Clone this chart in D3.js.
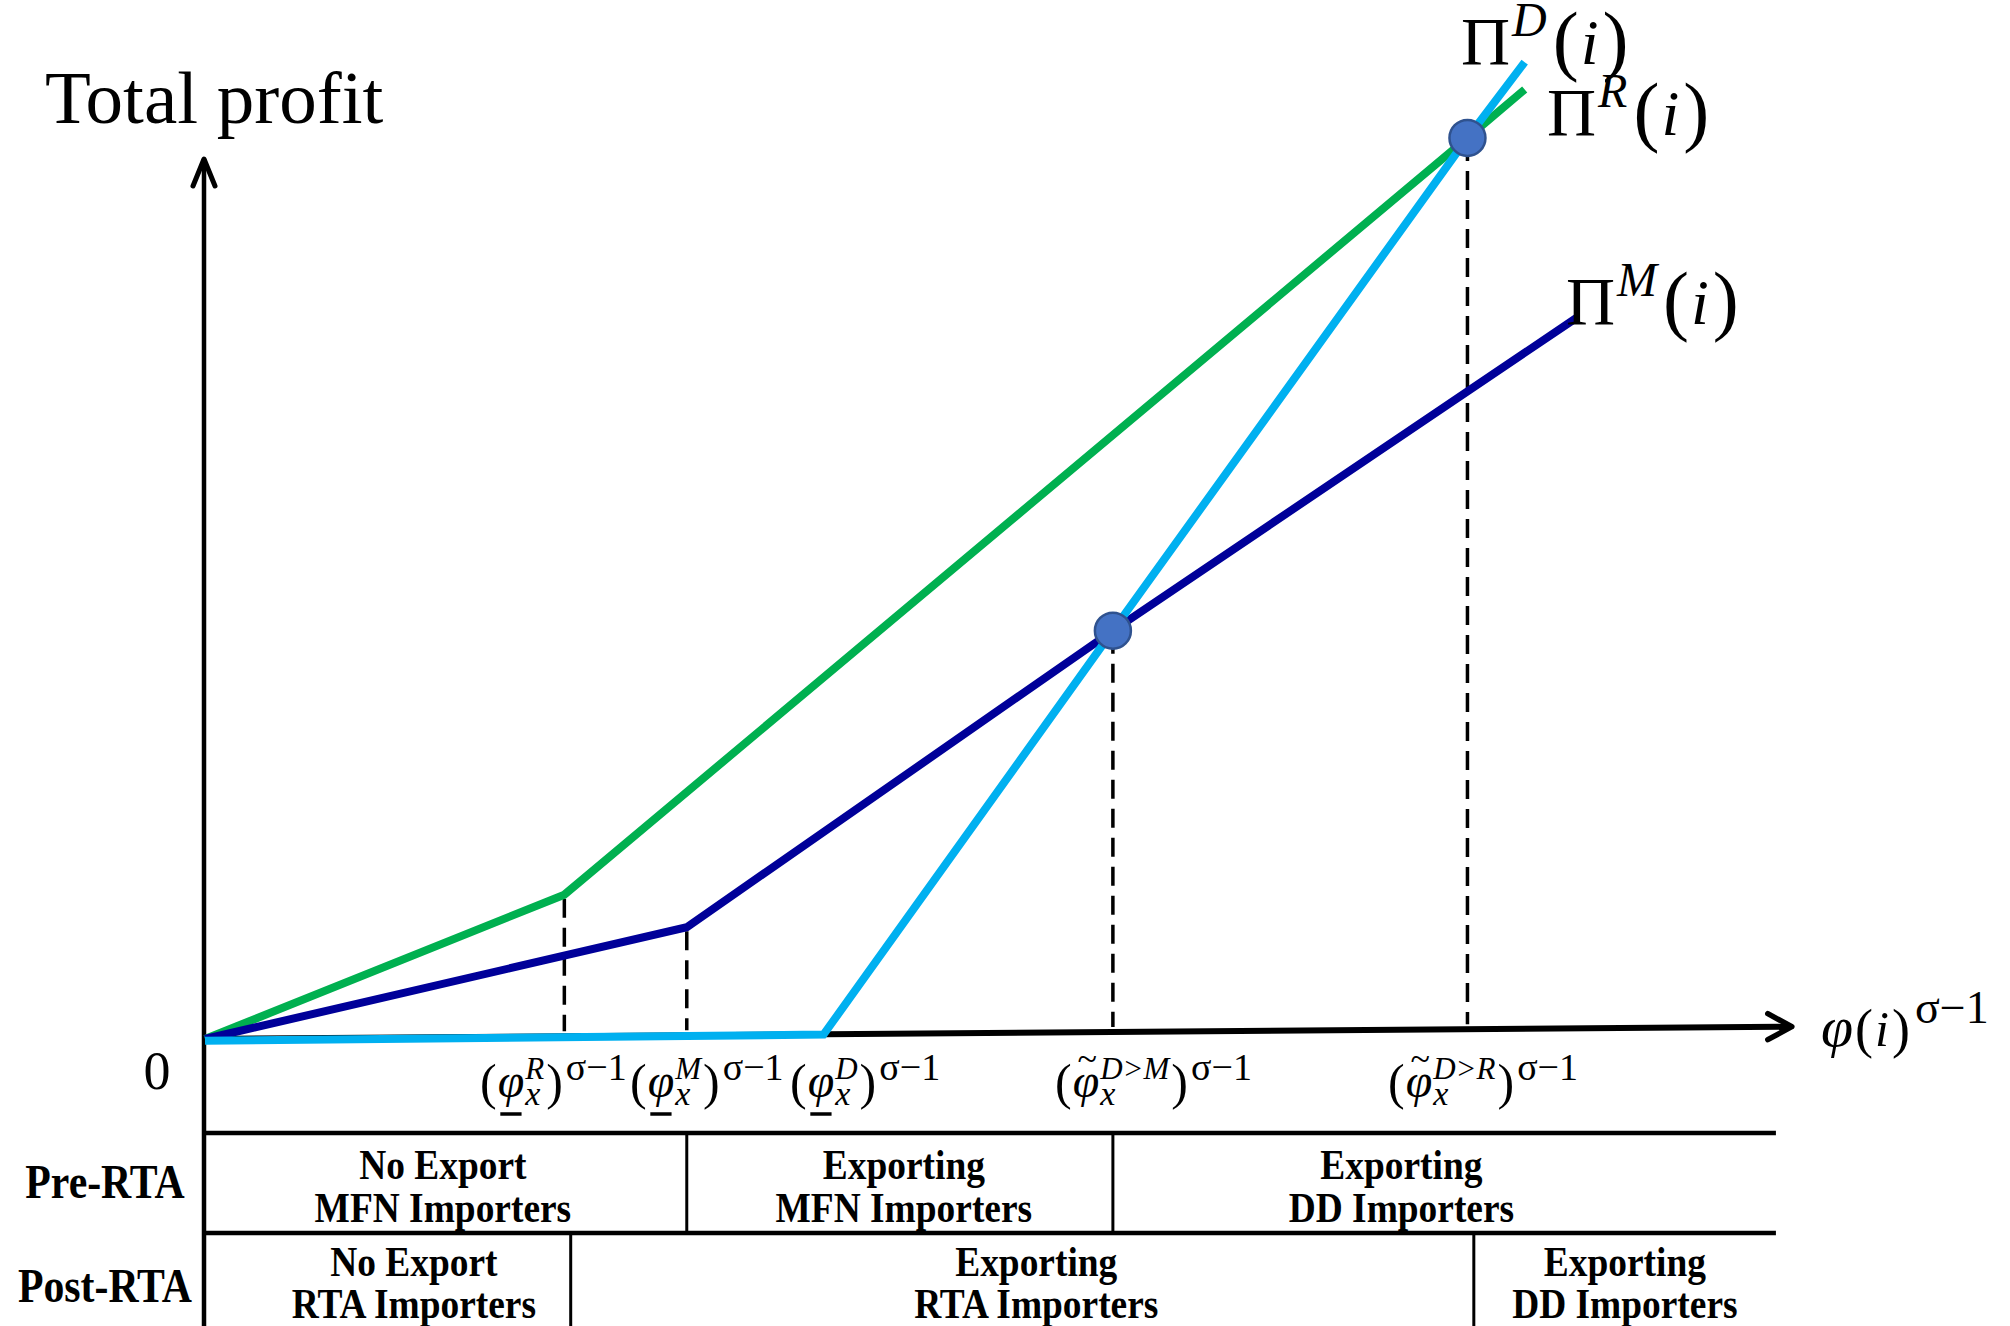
<!DOCTYPE html>
<html><head><meta charset="utf-8">
<script src="https://cdn.jsdelivr.net/npm/d3@7"></script>
<style>html,body{margin:0;padding:0;background:#fff;} svg{display:block;}</style>
</head><body>
<svg id="chart" width="2010" height="1326"></svg>
<script>
// ---------------- data ----------------
const profitR = [[0,0],[2.26,1.64],[7.94,10.24],[8.30,10.79]];          // Π^R(i)
const profitM = [[0,0],[3.03,1.27],[5.71,4.64],[8.63,8.20]];            // Π^M(i)
const profitD = [[0,-0.02],[3.89,0.05],[5.71,4.64],[7.94,10.24],[8.30,11.1]]; // Π^D(i)
const crossings = [[5.71,4.64],[7.94,10.24]];
const cutoffX   = [2.26, 3.03, 3.89, 5.71, 7.94];
const cutoffTop = [1.64, 1.27, null, 4.64, 10.24];
const cutoffSup = ["R","M","D","D>M","D>R"];
const cutoffTilde = [false,false,false,true,true];
const xAxisEnd = [9.98, 0.14];
const yAxisTop = 10;
const tableEnd = 9.88;
const rowLabels = ["Pre-RTA","Post-RTA"];
const preRTA = [
  {from:0, to:3.03, lines:["No Export","MFN Importers"]},
  {from:3.03, to:5.71, lines:["Exporting","MFN Importers"]},
  {from:5.71, to:tableEnd, lines:["Exporting","DD Importers"]}
];
const postRTA = [
  {from:0, to:2.30, lines:["No Export","RTA Importers"]},
  {from:2.30, to:7.98, lines:["Exporting","RTA Importers"]},
  {from:7.98, to:tableEnd, lines:["Exporting","DD Importers"]}
];
const curveNames = ["D","R","M"];

// ---------------- layout ----------------
const C = {green:"#00B050", navy:"#000099", sky:"#00B0F0", dot:"#4472C4", dotStroke:"#2F528F"};
const serif = "'Liberation Serif','Times New Roman',serif";
const svg = d3.select("#chart");
const x = d3.scaleLinear().domain([0,10]).range([205,1795]);
const y = d3.scaleLinear().domain([0,10]).range([1039,159]);
const line = d3.line().x(d=>x(d[0])).y(d=>y(d[1]));
const axisAt = v => xAxisEnd[1]*v/xAxisEnd[0];

// axes
const ax = x(0)-1;
svg.append("line").attr("x1",ax).attr("x2",ax).attr("y1",1326).attr("y2",y(yAxisTop))
  .attr("stroke","#000").attr("stroke-width",4.5);
svg.append("path").attr("d",`M${ax-11},${y(yAxisTop)+27} L${ax},${y(yAxisTop)} L${ax+11},${y(yAxisTop)+27}`)
  .attr("fill","none").attr("stroke","#000").attr("stroke-width",5).attr("stroke-linecap","round").attr("stroke-linejoin","round");
const xe = [x(xAxisEnd[0]), y(xAxisEnd[1])];
svg.append("line").attr("x1",x(0)).attr("y1",y(0)).attr("x2",xe[0]-3).attr("y2",xe[1])
  .attr("stroke","#000").attr("stroke-width",6);
svg.append("path").attr("d",`M${xe[0]-24},${xe[1]-13} L${xe[0]},${xe[1]} L${xe[0]-24},${xe[1]+13}`)
  .attr("fill","none").attr("stroke","#000").attr("stroke-width",5.5).attr("stroke-linecap","round").attr("stroke-linejoin","round");

// dashed cutoffs
cutoffX.forEach((v,i)=>{
  if (cutoffTop[i]===null) return;
  svg.append("line").attr("x1",x(v)).attr("x2",x(v)).attr("y1",y(cutoffTop[i])+4).attr("y2",y(axisAt(v))-5)
    .attr("stroke","#000").attr("stroke-width",3.5).attr("stroke-dasharray","19,10");
});

// profit lines
[[profitR,C.green],[profitM,C.navy],[profitD,C.sky]].forEach(([d,c])=>{
  svg.append("path").datum(d).attr("d",line).attr("fill","none").attr("stroke",c).attr("stroke-width",8);
});
svg.selectAll("circle.cross").data(crossings).join("circle").attr("class","cross")
  .attr("cx",d=>x(d[0])).attr("cy",d=>y(d[1])).attr("r",18)
  .attr("fill",C.dot).attr("stroke",C.dotStroke).attr("stroke-width",2.5);

// ------------- math text helper -------------
function mrow(g, x0, y0, toks){
  let cx = x0;
  toks.forEach(tk=>{
    if (tk.stack){
      const a = g.append("text").attr("x",cx).attr("y",y0+tk.supDy).attr("font-size",tk.fs).attr("font-style","italic").text(tk.sup);
      const b = g.append("text").attr("x",cx).attr("y",y0+tk.subDy).attr("font-size",tk.fs*1.1).attr("font-style","italic").text(tk.sub);
      cx += Math.max(a.node().getComputedTextLength(), b.node().getComputedTextLength()) + (tk.gap||0);
    } else {
      const t = g.append("text").attr("x",cx).attr("y",y0+(tk.dy||0)).attr("font-size",tk.fs)
        .attr("font-style",tk.it?"italic":"normal").text(tk.t);
      const w = t.node().getComputedTextLength();
      if (tk.ul) g.append("line").attr("x1",cx+w*0.1).attr("x2",cx+w*0.9).attr("y1",y0+tk.ul).attr("y2",y0+tk.ul)
        .attr("stroke","#000").attr("stroke-width",3.5);
      if (tk.tilde) g.append("text").attr("x",cx+w*0.55).attr("y",y0-tk.fs*0.55).attr("font-size",tk.fs*0.75)
        .attr("text-anchor","middle").text("~");
      cx += w + (tk.gap||0);
    }
  });
  return cx - x0;
}
const mg = svg.append("g").attr("font-family",serif).attr("fill","#000");

// curve labels
const curveLabelPos = {D:[1461,64], R:[1547,135], M:[1566,324]};
curveNames.forEach(n=>{
  const [px,py] = curveLabelPos[n];
  mrow(mg, px, py, [
    {t:"Π", fs:68, gap:2},
    {t:n, fs:48, it:true, dy:-28, gap:6},
    {t:"(", fs:78, dy:2, gap:2},
    {t:"i", fs:64, it:true, gap:4},
    {t:")", fs:78, dy:2}
  ]);
});

// x-axis title
mrow(mg, 1821, 1046, [
  {t:"φ", fs:58, it:true, gap:2},
  {t:"(", fs:54, dy:1, gap:2},
  {t:"i", fs:50, it:true, gap:3},
  {t:")", fs:54, dy:1, gap:5},
  {t:"σ−1", fs:46, dy:-23}
]);

// cutoff labels
const cutoffLabelStart = [480, 630, 790, 1055, 1388];
cutoffX.forEach((v,i)=>{
  mrow(mg, cutoffLabelStart[i], 1097, [
    {t:"(", fs:50, dy:2, gap:1},
    {t:"φ", fs:48, it:true, ul: cutoffTilde[i]?null:17, tilde:cutoffTilde[i], gap:1},
    {stack:true, sup:cutoffSup[i], sub:"x", fs:31, supDy:-18, subDy:8, gap:2},
    {t:")", fs:50, dy:2, gap:3},
    {t:"σ−1", fs:38, dy:-17}
  ]);
});

// "0" and title
svg.append("text").attr("x",157).attr("y",1089).attr("text-anchor","middle").attr("font-family",serif)
  .attr("font-size",54).text("0");
svg.append("text").attr("x",45).attr("y",123).attr("font-family",serif).attr("font-size",75).text("Total profit");

// ------------- table -------------
const tb = svg.append("g");
const rowY = [1133, 1233, 1326];
[rowY[0], rowY[1]].forEach(v=>{
  tb.append("line").attr("x1",ax).attr("x2",x(tableEnd)).attr("y1",v).attr("y2",v).attr("stroke","#000").attr("stroke-width",4.5);
});
const rows = [preRTA, postRTA];
const cellDx = [[-3,4,-43],[26,14,0]];
const lineBase = [[1179,1222],[1276,1318]];
rows.forEach((row,r)=>{
  row.forEach((cell,c)=>{
    if (c>0) tb.append("line").attr("x1",x(cell.from)).attr("x2",x(cell.from))
      .attr("y1",rowY[r]).attr("y2",rowY[r+1]).attr("stroke","#000").attr("stroke-width",3);
    const cx = (x(cell.from)+x(cell.to))/2 + cellDx[r][c];
    cell.lines.forEach((s,k)=>{
      tb.append("text").attr("transform",`translate(${cx},${lineBase[r][k]}) scale(0.87,1)`)
        .attr("text-anchor","middle").attr("font-family",serif).attr("font-weight","bold")
        .attr("font-size",43).text(s);
    });
  });
  tb.append("text").attr("transform",`translate(105,${[1198,1302][r]}) scale(0.87,1)`)
    .attr("text-anchor","middle").attr("font-family",serif).attr("font-weight","bold")
    .attr("font-size",48).text(rowLabels[r]);
});
</script>
</body></html>
